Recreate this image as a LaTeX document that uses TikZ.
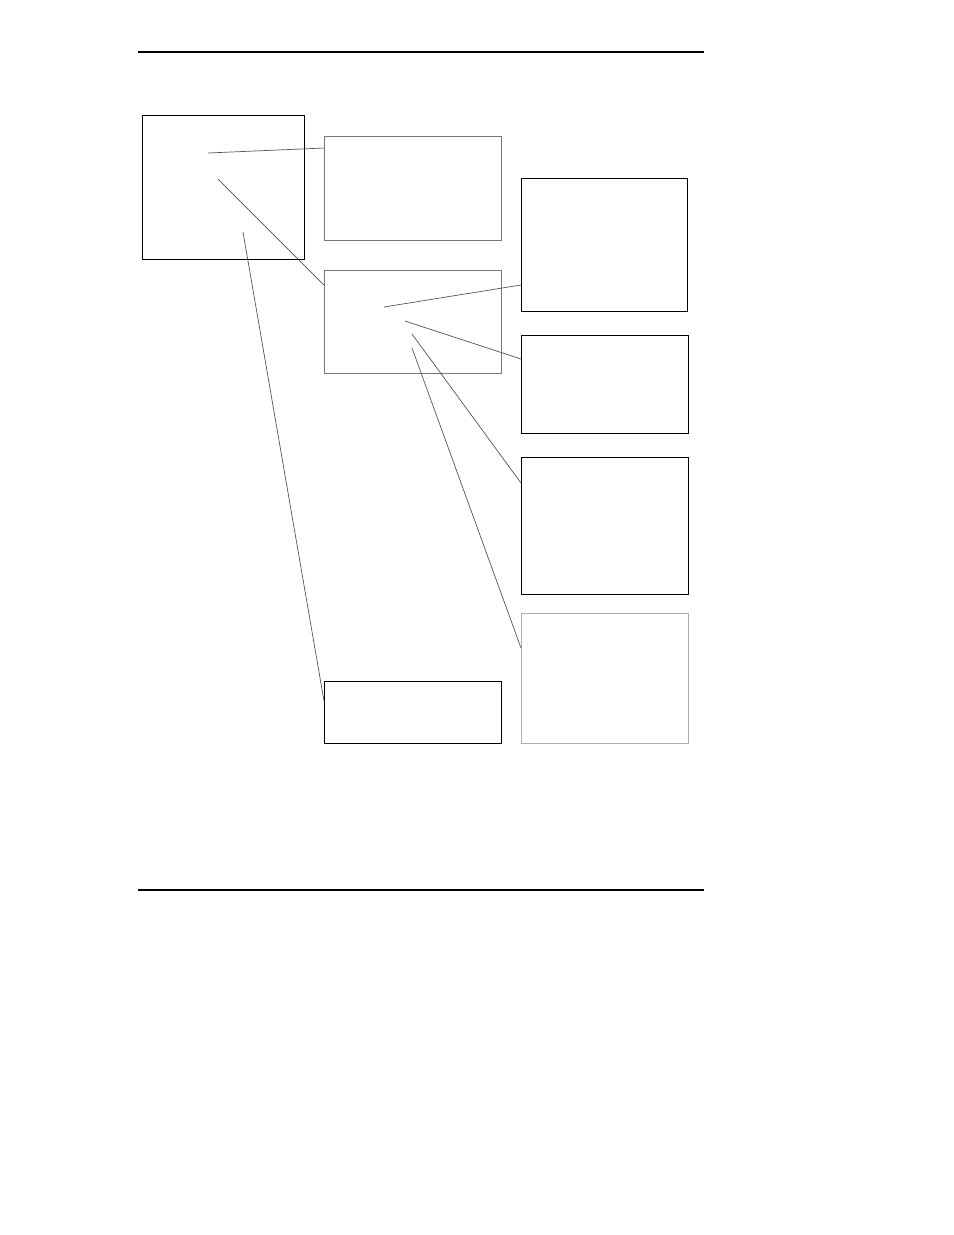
\documentclass[tikz,border=0pt]{standalone}
\usepackage{tikz}
\usetikzlibrary{calc}
\definecolor{framegray}{RGB}{120, 120, 120}
\definecolor{palegray}{RGB}{175, 175, 175}
\definecolor{linkgray}{RGB}{85, 85, 85}

\begin{document}
\begin{tikzpicture}[x=0.6415pt, y=-0.6415pt,
  darkbox/.style={draw=black, line width=0.9pt, inner sep=0pt, anchor=north west},
  greybox/.style={draw=framegray, line width=0.7pt, inner sep=0pt, anchor=north west},
  palebox/.style={draw=palegray, line width=0.7pt, inner sep=0pt, anchor=north west},
  link/.style={draw=linkgray, line width=0.45pt}]
 % Page frame
 \useasboundingbox[fill=white] (0,0) rectangle (954,1235);
 \draw[black, line width=0.7pt] (138,52) -- (704,52);
 \draw[black, line width=0.7pt] (138,890) -- (704,890);

 % Left column
 \node[darkbox, minimum width=162*0.6415pt, minimum height=144*0.6415pt] (source) at (142,115) {};

 % Middle column
 \node[greybox, minimum width=177*0.6415pt, minimum height=104*0.6415pt] (upper) at (324,136) {};
 \node[greybox, minimum width=177*0.6415pt, minimum height=103*0.6415pt] (hub) at (324,270) {};
 \node[darkbox, minimum width=177*0.6415pt, minimum height=62*0.6415pt] (lower) at (324,681) {};

 % Right column
 \node[darkbox, minimum width=166*0.6415pt, minimum height=133*0.6415pt] (rightA) at (521,178) {};
 \node[darkbox, minimum width=167*0.6415pt, minimum height=98*0.6415pt] (rightB) at (521,335) {};
 \node[darkbox, minimum width=167*0.6415pt, minimum height=137*0.6415pt] (rightC) at (521,457) {};
 \node[palebox, minimum width=167*0.6415pt, minimum height=130*0.6415pt] (rightD) at (521,613) {};

 % Free ends inside the boxes
 \coordinate (srcone) at (208,153);
 \coordinate (srctwo) at (218,179);
 \coordinate (srcthree) at (243,232);
 \coordinate (hubone) at (384,307);
 \coordinate (hubtwo) at (405,321);
 \coordinate (hubthree) at (412,334);
 \coordinate (hubfour) at (412,348);

 % Links from the left box
 \draw[link] (srcone) -- ([yshift=-12*0.6415pt]upper.north west);
 \draw[link] (srctwo) -- ([yshift=-15*0.6415pt]hub.north west);
 \draw[link] (srcthree) -- ([yshift=-20*0.6415pt]lower.north west);

 % Links from the hub box
 \draw[link] (hubone) -- ([yshift=-107*0.6415pt]rightA.north west);
 \draw[link] (hubtwo) -- ([yshift=-24*0.6415pt]rightB.north west);
 \draw[link] (hubthree) -- ([yshift=-26*0.6415pt]rightC.north west);
 \draw[link] (hubfour) -- ([yshift=-35*0.6415pt]rightD.north west);
\end{tikzpicture}
\end{document}
